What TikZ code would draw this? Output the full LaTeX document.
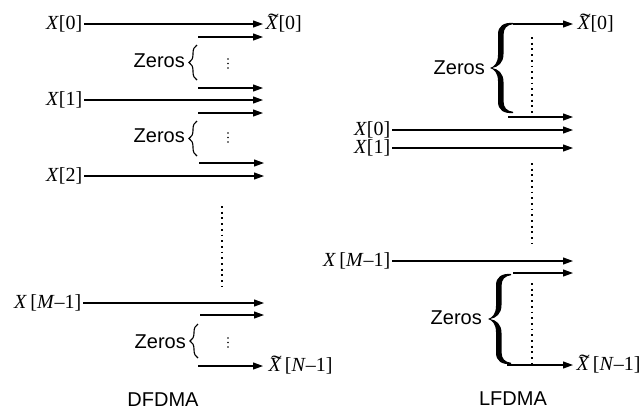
\documentclass[tikz,border=0pt]{standalone}
\usepackage{graphicx}
\usepackage{fontspec}
\setmainfont{Liberation Serif}
\newfontfamily\sansf{Liberation Sans}
\usetikzlibrary{arrows.meta,decorations.pathreplacing}
\newcommand\tX{\ooalign{\textit{X}\cr\hidewidth\kern0.14em\raisebox{0.12em}{\scalebox{1.6}[1]{\char"02DC}}\hidewidth\cr}}
\begin{document}
\begin{tikzpicture}[x=1pt,y=-1pt,
  arr/.style={-{Triangle[length=10pt,width=7pt]},line width=1.1pt},
  lab/.style={font=\fontsize{20}{24}\selectfont, inner sep=1.5pt},
  tight/.style={inner ysep=0pt, text height=13pt, text depth=3pt},
  zlab/.style={font=\sansf\fontsize{20}{24}\selectfont, inner sep=1pt},
  dotline/.style={line width=1.8pt, dash pattern=on 1.8pt off 3.9pt},
  smallbrace/.style={decorate,decoration={brace,amplitude=8pt},line width=1.1pt},
  bigbrace/.pic={
    \fill (23,-45) .. controls (14,-45.8) and (8,-42) .. (8,-34) -- (8,-13)
      .. controls (8,-5) and (4,-1) .. (0,0)
      .. controls (4,1) and (8,5) .. (8,13) -- (8,34)
      .. controls (8,42) and (14,45.8) .. (23,45) -- (23,43.8)
      .. controls (17,43) and (13.5,40) .. (13.5,33) -- (13.5,14)
      .. controls (13.5,5) and (8,1) .. (2,0)
      .. controls (8,-1) and (13.5,-5) .. (13.5,-14) -- (13.5,-33)
      .. controls (13.5,-40) and (17,-43) .. (23,-43.8) -- cycle;
  }
]
\useasboundingbox (0,0) rectangle (642,413);

% ---------------- DFDMA ----------------
\node[lab,anchor=east] (a0) at (84,24) {\textit{X}[0]};
\coordinate (a0e) at (263,24);
\draw[arr] (a0) -- (a0e);
\node[lab,anchor=west] (t0) at (264,24) {\tX[0]};

\coordinate (z1s) at (198,37);  \coordinate (z1e) at (263,37);
\draw[arr] (z1s) -- (z1e);
\coordinate (z2s) at (198,88);  \coordinate (z2e) at (263,88);
\draw[arr] (z2s) -- (z2e);
\coordinate (b1a) at (197,80); \coordinate (b1b) at (197,45);
\draw[smallbrace] (b1a) -- (b1b);
\node[zlab,anchor=east] (zer1) at (186,61) {Zeros};
\foreach \y in {59,63.5,68} \fill (228,\y) circle (0.95);

\node[lab,anchor=east] (a1) at (84,100) {\textit{X}[1]};
\coordinate (a1e) at (263,100);
\draw[arr] (a1) -- (a1e);

\coordinate (z3s) at (198,113);  \coordinate (z3e) at (263,113);
\draw[arr] (z3s) -- (z3e);
\coordinate (z4s) at (199,163);  \coordinate (z4e) at (264,163);
\draw[arr] (z4s) -- (z4e);
\coordinate (b2a) at (197,156); \coordinate (b2b) at (197,121);
\draw[smallbrace] (b2a) -- (b2b);
\node[zlab,anchor=east] (zer2) at (186,136) {Zeros};
\foreach \y in {133,137.5,142} \fill (228,\y) circle (0.95);

\node[lab,anchor=east] (a2) at (84,176) {\textit{X}[2]};
\coordinate (a2e) at (264,176);
\draw[arr] (a2) -- (a2e);

\coordinate (d1a) at (222,206); \coordinate (d1b) at (222,286);
\draw[dotline] (d1a) -- (d1b);

\node[lab,anchor=east] (am) at (83,303) {\textit{X}\,[\textit{M}--1]};
\coordinate (ame) at (264,303);
\draw[arr] (am) -- (ame);

\coordinate (z5s) at (200,315);  \coordinate (z5e) at (264,315);
\draw[arr] (z5s) -- (z5e);
\coordinate (b3a) at (198,358); \coordinate (b3b) at (198,324);
\draw[smallbrace] (b3a) -- (b3b);
\node[zlab,anchor=east] (zer3) at (187,342) {Zeros};
\foreach \y in {338,342.5,347} \fill (228,\y) circle (0.95);
\coordinate (z6s) at (198,366);  \coordinate (z6e) at (263,366);
\draw[arr] (z6s) -- (z6e);
\node[lab,anchor=west] (tn) at (267,366) {\tX\,[\textit{N}--1]};

\node[zlab,anchor=center] (dfdma) at (163,400) {DFDMA};

% ---------------- LFDMA ----------------
\coordinate (r0s) at (513,24); \coordinate (r0e) at (573,24);
\draw[arr] (r0s) -- (r0e);
\node[lab,anchor=west] (rt0) at (576,24) {\tX[0]};
\pic at (490,68) {bigbrace};
\node[zlab,anchor=east] (rz1) at (486,68) {Zeros};
\coordinate (rd1a) at (532,37); \coordinate (rd1b) at (532,117);
\draw[dotline] (rd1a) -- (rd1b);
\coordinate (r1s) at (508,117); \coordinate (r1e) at (573,117);
\draw[arr] (r1s) -- (r1e);

\node[lab,tight,anchor=east] (rx0) at (392,130) {\textit{X}[0]};
\coordinate (rx0e) at (573,130);
\draw[arr] (rx0) -- (rx0e);
\node[lab,tight,anchor=east] (rx1) at (392,148) {\textit{X}[1]};
\coordinate (rx1e) at (573,148);
\draw[arr] (rx1) -- (rx1e);

\coordinate (rd2a) at (532,163); \coordinate (rd2b) at (532,243);
\draw[dotline] (rd2a) -- (rd2b);

\node[lab,anchor=east] (rxm) at (392,261) {\textit{X}\,[\textit{M}--1]};
\coordinate (rxme) at (573,261);
\draw[arr] (rxm) -- (rxme);

\coordinate (r2s) at (513,273); \coordinate (r2e) at (573,273);
\draw[arr] (r2s) -- (r2e);
\pic at (488,319) {bigbrace};
\node[zlab,anchor=east] (rz2) at (483,318) {Zeros};
\coordinate (rd3a) at (532,283); \coordinate (rd3b) at (532,363);
\draw[dotline] (rd3a) -- (rd3b);
\coordinate (r3s) at (507,365); \coordinate (r3e) at (573,365);
\draw[arr] (r3s) -- (r3e);
\node[lab,anchor=west] (rtn) at (575,365) {\tX\,[\textit{N}--1]};

\node[zlab,anchor=center] (lfdma) at (513,399) {LFDMA};
\end{tikzpicture}
\end{document}
